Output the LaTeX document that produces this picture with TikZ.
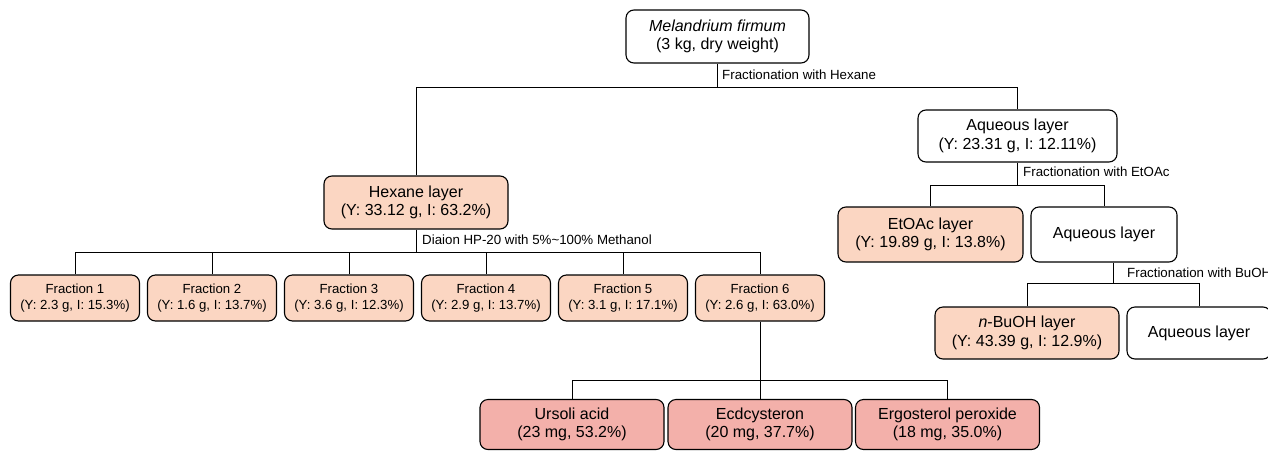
\documentclass[tikz,border=0pt]{standalone}
\usepackage{fontspec}
\setmainfont{Liberation Sans}
\definecolor{peach}{RGB}{251,214,194}
\definecolor{pinkc}{RGB}{243,176,170}
\begin{document}
\begin{tikzpicture}[x=1pt,y=-1pt,
  box/.style={draw=black,line width=1.1pt,rounded corners=8pt,align=center,inner sep=0pt,
    font=\fontsize{16}{18.5}\selectfont},
  frac/.style={draw=black,line width=1.1pt,rounded corners=8pt,align=center,inner sep=0pt,
    fill=peach,minimum width=129pt,minimum height=46pt,font=\fontsize{13.2}{15.2}\selectfont},
  comp/.style={box,fill=pinkc,minimum width=184pt,minimum height=50pt},
  lbl/.style={anchor=west,inner sep=0pt,font=\fontsize{13.3}{15}\selectfont},
  conn/.style={draw=black,line width=0.9pt}]
\useasboundingbox (0,0) rectangle (1268,450);
% nodes
\node[box,fill=white,minimum width=183pt,minimum height=53pt] (top) at (717.5,36.5) {\itshape Melandrium firmum\\(3 kg, dry weight)};
\node[box,fill=peach,minimum width=184pt,minimum height=53pt] (hex) at (416,202.5) {Hexane layer\\(Y: 33.12 g, I: 63.2\%)};
\node[box,fill=white,minimum width=199pt,minimum height=52pt] (aq1) at (1017.5,136) {Aqueous layer\\(Y: 23.31 g, I: 12.11\%)};
\node[box,fill=peach,minimum width=185pt,minimum height=55pt] (etoac) at (930.5,234.5) {EtOAc layer\\(Y: 19.89 g, I: 13.8\%)};
\node[box,fill=white,minimum width=146pt,minimum height=55pt] (aq2) at (1104,234.5) {Aqueous layer};
\node[box,fill=peach,minimum width=184pt,minimum height=52pt] (buoh) at (1027,333) {\textit{n}-BuOH layer\\(Y: 43.39 g, I: 12.9\%)};
\node[box,fill=white,minimum width=144pt,minimum height=52pt] (aq3) at (1199,333) {Aqueous layer};
\node[frac] (f1) at (75,298) {Fraction 1\\(Y: 2.3 g, I: 15.3\%)};
\node[frac] (f2) at (212,298) {Fraction 2\\(Y: 1.6 g, I: 13.7\%)};
\node[frac] (f3) at (349,298) {Fraction 3\\(Y: 3.6 g, I: 12.3\%)};
\node[frac] (f4) at (486,298) {Fraction 4\\(Y: 2.9 g, I: 13.7\%)};
\node[frac] (f5) at (623,298) {Fraction 5\\(Y: 3.1 g, I: 17.1\%)};
\node[frac] (f6) at (760,298) {Fraction 6\\(Y: 2.6 g, I: 63.0\%)};
\node[comp] (c1) at (572,424.5) {Ursoli acid\\(23 mg, 53.2\%)};
\node[comp] (c2) at (760,424.5) {Ecdcysteron\\(20 mg, 37.7\%)};
\node[comp] (c3) at (947.5,424.5) {Ergosterol peroxide\\(18 mg, 35.0\%)};
% junction coordinates
\coordinate (j1) at (717.5,87);
\coordinate (j2) at (1018,185);
\coordinate (j3) at (1113,283);
\coordinate (j4) at (417.5,252);
\coordinate (j5) at (760,380);
% connectors
\draw[conn] (top.south) -- (top.south |- j1);
\draw[conn] (hex.north) -- (hex.north |- j1) -- (aq1.north |- j1) -- (aq1.north);
\draw[conn] (aq1.south) -- (aq1.south |- j2);
\draw[conn] (etoac.north) -- (etoac.north |- j2) -- (aq2.north |- j2) -- (aq2.north);
\draw[conn] (aq2.south -| j3) -- (j3);
\draw[conn] (buoh.north) -- (buoh.north |- j3) -- (aq3.north |- j3) -- (aq3.north);
\draw[conn] (hex.south) -- (hex.south |- j4);
\draw[conn] (f1.north) -- (f1.north |- j4) -- (f6.north |- j4) -- (f6.north);
\foreach \f in {f2,f3,f4,f5} \draw[conn] (\f.north) -- (\f.north |- j4);
\draw[conn] (f6.south) -- (j5);
\draw[conn] (c1.north) -- (c1.north |- j5) -- (c3.north |- j5) -- (c3.north);
\draw[conn] (c2.north) -- (c2.north |- j5);
% labels
\node[lbl] (l1) at (722,75) {Fractionation with Hexane};
\node[lbl] (l2) at (1023,172) {Fractionation with EtOAc};
\node[lbl] (l3) at (422,240) {Diaion HP-20 with 5\%\textasciitilde100\% Methanol};
\node[lbl] (l4) at (1127,273) {Fractionation with BuOH};
\end{tikzpicture}
\end{document}
